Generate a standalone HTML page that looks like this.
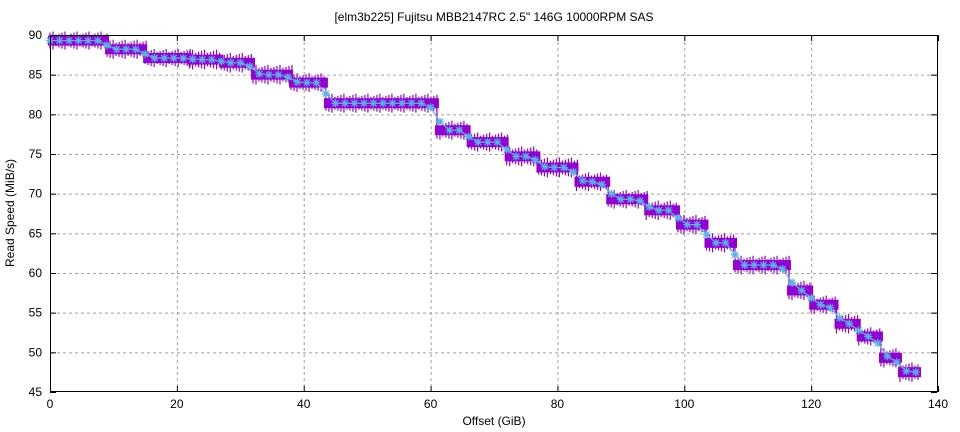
<!DOCTYPE html>
<html><head><meta charset="utf-8"><style>
body{margin:0;background:#fff}
svg{display:block;font-family:"Liberation Sans","DejaVu Sans",sans-serif}
</style></head><body>
<svg id="s" width="960" height="432" viewBox="0 0 960 432" xmlns="http://www.w3.org/2000/svg">
<rect width="960" height="432" fill="#fff"/>
<text x="494" y="21" font-size="12" text-anchor="middle">[elm3b225] Fujitsu MBB2147RC 2.5" 146G 10000RPM SAS</text>
<g id="grid" stroke="#a0a0a0" stroke-dasharray="3,3" stroke-width="1"></g>
<g id="data"></g>
<rect x="50.5" y="35.5" width="887" height="356" fill="none" stroke="#000" stroke-width="1"/>
<g id="ticks" stroke="#000"></g>
<g id="lbl" font-size="12"></g>
<text x="494" y="425" font-size="12" text-anchor="middle">Offset (GiB)</text>
<text transform="translate(14,213) rotate(-90)" font-size="12" text-anchor="middle">Read Speed (MiB/s)</text>
</svg>
<script>
var NS="http://www.w3.org/2000/svg";
function X(g){return 50+g*6.343}
function Y(v){return 35+(90-v)*7.933}
function el(p,t,a,txt){var e=document.createElementNS(NS,t);for(var k in a)e.setAttribute(k,a[k]);if(txt!=null)e.textContent=txt;document.getElementById(p).appendChild(e);return e}
for(var g=20;g<140;g+=20){el("grid","line",{x1:X(g)+.5,x2:X(g)+.5,y1:36,y2:391});}
for(var v=50;v<90;v+=5){el("grid","line",{x1:51,x2:937,y1:Y(v)+.5,y2:Y(v)+.5});}
for(var g=0;g<=140;g+=20){el("ticks","line",{x1:X(g)+.5,x2:X(g)+.5,y1:392,y2:386});el("ticks","line",{x1:X(g)+.5,x2:X(g)+.5,y1:35,y2:41});el("lbl","text",{x:X(g),y:408,"text-anchor":"middle"},g);}
for(var v=45;v<=90;v+=5){el("ticks","line",{x1:50,x2:56,y1:Y(v)+.5,y2:Y(v)+.5});el("ticks","line",{x1:937,x2:931,y1:Y(v)+.5,y2:Y(v)+.5});el("lbl","text",{x:42,y:Y(v)+4,"text-anchor":"end"},v);}
var st=[[0,9,89.3],[9,15,88.2],[15,22,87.1],[22,27,86.9],[27,32,86.5],[32,38,85.0],[38,43.5,84.0],[43.5,61,81.4],[61,66,78.0],[66,72,76.5],[72,77,74.7],[77,83,73.3],[83,88,71.5],[88,94,69.3],[94,99,67.9],[99,103.5,66.1],[103.5,108,63.8],[108,116.5,61.0],[116.5,120,57.8],[120,124,56.0],[124,127.5,53.6],[127.5,131,52.0],[131,134,49.3],[134,137,47.5]];
var P="#9400d3";
st.forEach(function(s,i){
 var x1=X(s[0]),x2=X(s[1]),y=Y(s[2]);
 el("data","rect",{x:x1-2,y:y-5,width:x2-x1+4,height:10,fill:P});
 for(var x=x1;x<=x2+1;x+=3){var h=6+((x*7)%4);el("data","line",{x1:x,x2:x,y1:y-h,y2:y+h,stroke:P,"stroke-width":1.2});}
 if(i>0){el("data","line",{x1:x1,x2:x1,y1:Y(st[i-1][2]),y2:y,stroke:P,"stroke-width":1.2});}
});
function val(g){for(var i=0;i<st.length;i++)if(g<st[i][1])return st[i][2];return 47.5}
function sm(g){var s=0,n=0;for(var d=-1.2;d<=1.2;d+=0.2){var gg=Math.min(137,Math.max(0,g+d));s+=val(gg);n++;}return s/n}
var pts=[];for(var g=0;g<=137;g+=1.5){pts.push([X(g),Y(sm(g))]);}
el("data","polyline",{points:pts.map(function(p){return p.join(",")}).join(" "),fill:"none",stroke:"#56b4e9","stroke-width":1.2});
var C="#56b4e9";
pts.forEach(function(p){var x=p[0],y=p[1],r=4;
 el("data","path",{d:"M"+(x-r)+" "+y+"h"+2*r+"M"+x+" "+(y-r)+"v"+2*r+"M"+(x-3)+" "+(y-3)+"l6 6M"+(x-3)+" "+(y+3)+"l6 -6",stroke:C,"stroke-width":1.3,fill:"none"});});
</script>
</body></html>
